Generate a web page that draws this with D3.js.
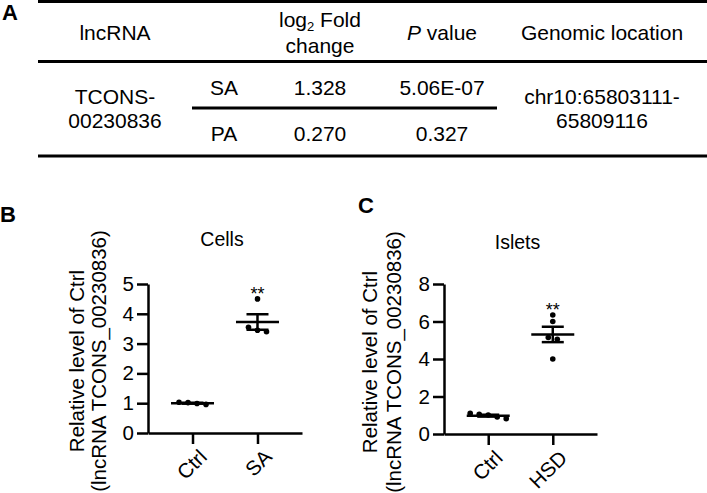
<!DOCTYPE html>
<html lang="en">
<head>
    <meta charset="UTF-8">
    <title>lncRNA TCONS_00230836</title>
    <script src="https://d3js.org/d3.v7.min.js"></script>
    <style>
        body { margin: 0; background: #fff; }
        svg { display: block; font-family: "Liberation Sans", Arial, Helvetica, sans-serif; }
        .axis path, .axis line { stroke: #000; stroke-width: 2.5; }
        .axis text { font-size: 20.5px; fill: #000; }
    </style>
</head>
<body>
    <div id="chart"></div>
    <script>
        // table (panel A)
        const conditions = ["SA", "PA"];
        const log2Fold = ["1.328", "0.270"];
        const pValues = ["5.06E-07", "0.327"];
        const lncName = ["TCONS-", "00230836"];
        const genomicLoc = ["chr10:65803111-", "65809116"];

        // panel B: cells
        const cellGroups = ["Ctrl", "SA"];
        const cellValues = [
            [1.03, 1.02, 0.99, 0.96],
            [4.5, 3.55, 3.45, 3.4]
        ];
        const cellTicks = [0, 1, 2, 3, 4, 5];

        // panel C: islets
        const isletGroups = ["Ctrl", "HSD"];
        const isletValues = [
            [1.1, 1.05, 0.82, 0.91, 1.01],
            [6.35, 6.0, 5.15, 5.05, 4.0]
        ];
        const isletTicks = [0, 2, 4, 6, 8];

        const yLabel = ["Relative level of Ctrl", "(lncRNA TCONS_00230836)"];

        const svg = d3.select("#chart").append("svg")
            .attr("width", 707)
            .attr("height", 493);

        // ---- panel A ----
        const tA = svg.append("g").style("font-size", "21px");
        tA.append("text").attr("x", 2).attr("y", 20)
            .style("font-weight", "bold").style("font-size", "22px").text("A");

        const hline = (x1, x2, y) => tA.append("line")
            .attr("x1", x1).attr("x2", x2).attr("y1", y).attr("y2", y)
            .attr("stroke", "#000").attr("stroke-width", 3);
        hline(38, 707, 1.5);
        hline(38, 707, 61.5);
        hline(192, 497, 108);
        hline(38, 707, 156);

        const cx = { lnc: 115, cond: 224, fold: 320, p: 442, loc: 602 };
        const txt = (x, y, s) => tA.append("text").attr("x", x).attr("y", y)
            .attr("text-anchor", "middle").text(s);

        txt(cx.lnc, 40, "lncRNA");
        const fh = tA.append("text").attr("x", cx.fold).attr("y", 27).attr("text-anchor", "middle");
        fh.append("tspan").text("log");
        fh.append("tspan").attr("dy", 4).style("font-size", "13px").text("2");
        fh.append("tspan").attr("dy", -4).text(" Fold");
        txt(cx.fold, 53, "change");
        const ph = tA.append("text").attr("x", cx.p).attr("y", 40).attr("text-anchor", "middle");
        ph.append("tspan").style("font-style", "italic").text("P");
        ph.append("tspan").text(" value");
        txt(cx.loc, 40, "Genomic location");

        lncName.forEach((s, i) => txt(cx.lnc, 104 + i * 24, s));
        genomicLoc.forEach((s, i) => txt(cx.loc, 104 + i * 24, s));
        conditions.forEach((c, i) => {
            const y = 95 + i * 46;
            txt(cx.cond, y, c);
            txt(cx.fold, y, log2Fold[i]);
            txt(cx.p, y, pValues[i]);
        });

        // ---- scatter panels ----
        function panel(opt) {
            const g = svg.append("g");
            const x = d3.scalePoint().domain(opt.groups).range(opt.xr).padding(0.685);
            const y = d3.scaleLinear().domain([0, d3.max(opt.ticks)]).range(opt.yr);

            g.append("text").attr("x", opt.letter[0]).attr("y", opt.letter[1])
                .style("font-weight", "bold").style("font-size", "22px").text(opt.letterText);

            g.append("text").attr("x", (opt.xr[0] + opt.xr[1]) / 2 - 3).attr("y", opt.titleY)
                .attr("text-anchor", "middle").style("font-size", "19.5px").text(opt.title);

            const ya = g.append("g").attr("class", "axis")
                .attr("transform", `translate(${opt.xr[0]},0)`)
                .call(d3.axisLeft(y).tickValues(opt.ticks).tickFormat(d3.format("d"))
                    .tickSize(11).tickSizeOuter(0).tickPadding(3));
            ya.selectAll("text").attr("font-family", null);

            const xa = g.append("g").attr("class", "axis")
                .attr("transform", `translate(0,${opt.yr[0]})`)
                .call(d3.axisBottom(x).tickSize(11).tickSizeOuter(0));
            xa.selectAll("text")
                .attr("font-family", null)
                .attr("y", 0).attr("dy", "0.7em")
                .attr("text-anchor", "end")
                .attr("transform", "translate(5,15) rotate(-45)");

            opt.labelX.forEach((lx, i) => {
                g.append("text")
                    .attr("transform", `translate(${lx},${opt.labelY}) rotate(-90)`)
                    .attr("text-anchor", "middle")
                    .attr("dy", "0.35em")
                    .style("font-size", "20.5px")
                    .text(yLabel[i]);
            });

            const r = 2.8, step = 9;
            opt.groups.forEach((grp, gi) => {
                const vals = opt.values[gi];
                const cxg = x(grp);

                // spread points that share a row, centred on the group
                const sorted = vals.map((v, i) => ({ v, i })).sort((a, b) => b.v - a.v);
                const rows = [];
                sorted.forEach(p => {
                    const last = rows[rows.length - 1];
                    if (last && Math.abs(y(last[last.length - 1].v) - y(p.v)) < 2 * r) last.push(p);
                    else rows.push([p]);
                });
                const pts = [];
                rows.forEach(row => row.forEach((p, k) => {
                    pts.push({ v: p.v, dx: (k - (row.length - 1) / 2) * step });
                }));

                g.append("g").selectAll("circle").data(pts).join("circle")
                    .attr("cx", d => cxg + d.dx)
                    .attr("cy", d => y(d.v))
                    .attr("r", r)
                    .attr("fill", "#000");

                const m = d3.mean(vals);
                const sem = d3.deviation(vals) / Math.sqrt(vals.length);
                const bar = g.append("g").attr("stroke", "#000").attr("stroke-width", 2.5);
                bar.append("line").attr("x1", cxg - 21.5).attr("x2", cxg + 21.5)
                    .attr("y1", y(m)).attr("y2", y(m));
                bar.append("line").attr("x1", cxg).attr("x2", cxg)
                    .attr("y1", y(m - sem)).attr("y2", y(m + sem));
                [m - sem, m + sem].forEach(v => bar.append("line")
                    .attr("x1", cxg - 11).attr("x2", cxg + 11)
                    .attr("y1", y(v)).attr("y2", y(v)));

                if (gi === 1) {
                    g.append("text").attr("x", cxg).attr("y", y(d3.max(vals)) + 1)
                        .attr("text-anchor", "middle").style("font-size", "18px").text("**");
                }
            });
        }

        panel({
            groups: cellGroups, values: cellValues, ticks: cellTicks,
            xr: [148, 302], yr: [433, 284],
            letter: [0, 222], letterText: "B",
            title: "Cells", titleY: 246,
            labelX: [77, 99], labelY: 361
        });

        panel({
            groups: isletGroups, values: isletValues, ticks: isletTicks,
            xr: [444, 597], yr: [434, 284],
            letter: [358, 213], letterText: "C",
            title: "Islets", titleY: 249,
            labelX: [370, 394], labelY: 362
        });
    </script>
</body>
</html>
